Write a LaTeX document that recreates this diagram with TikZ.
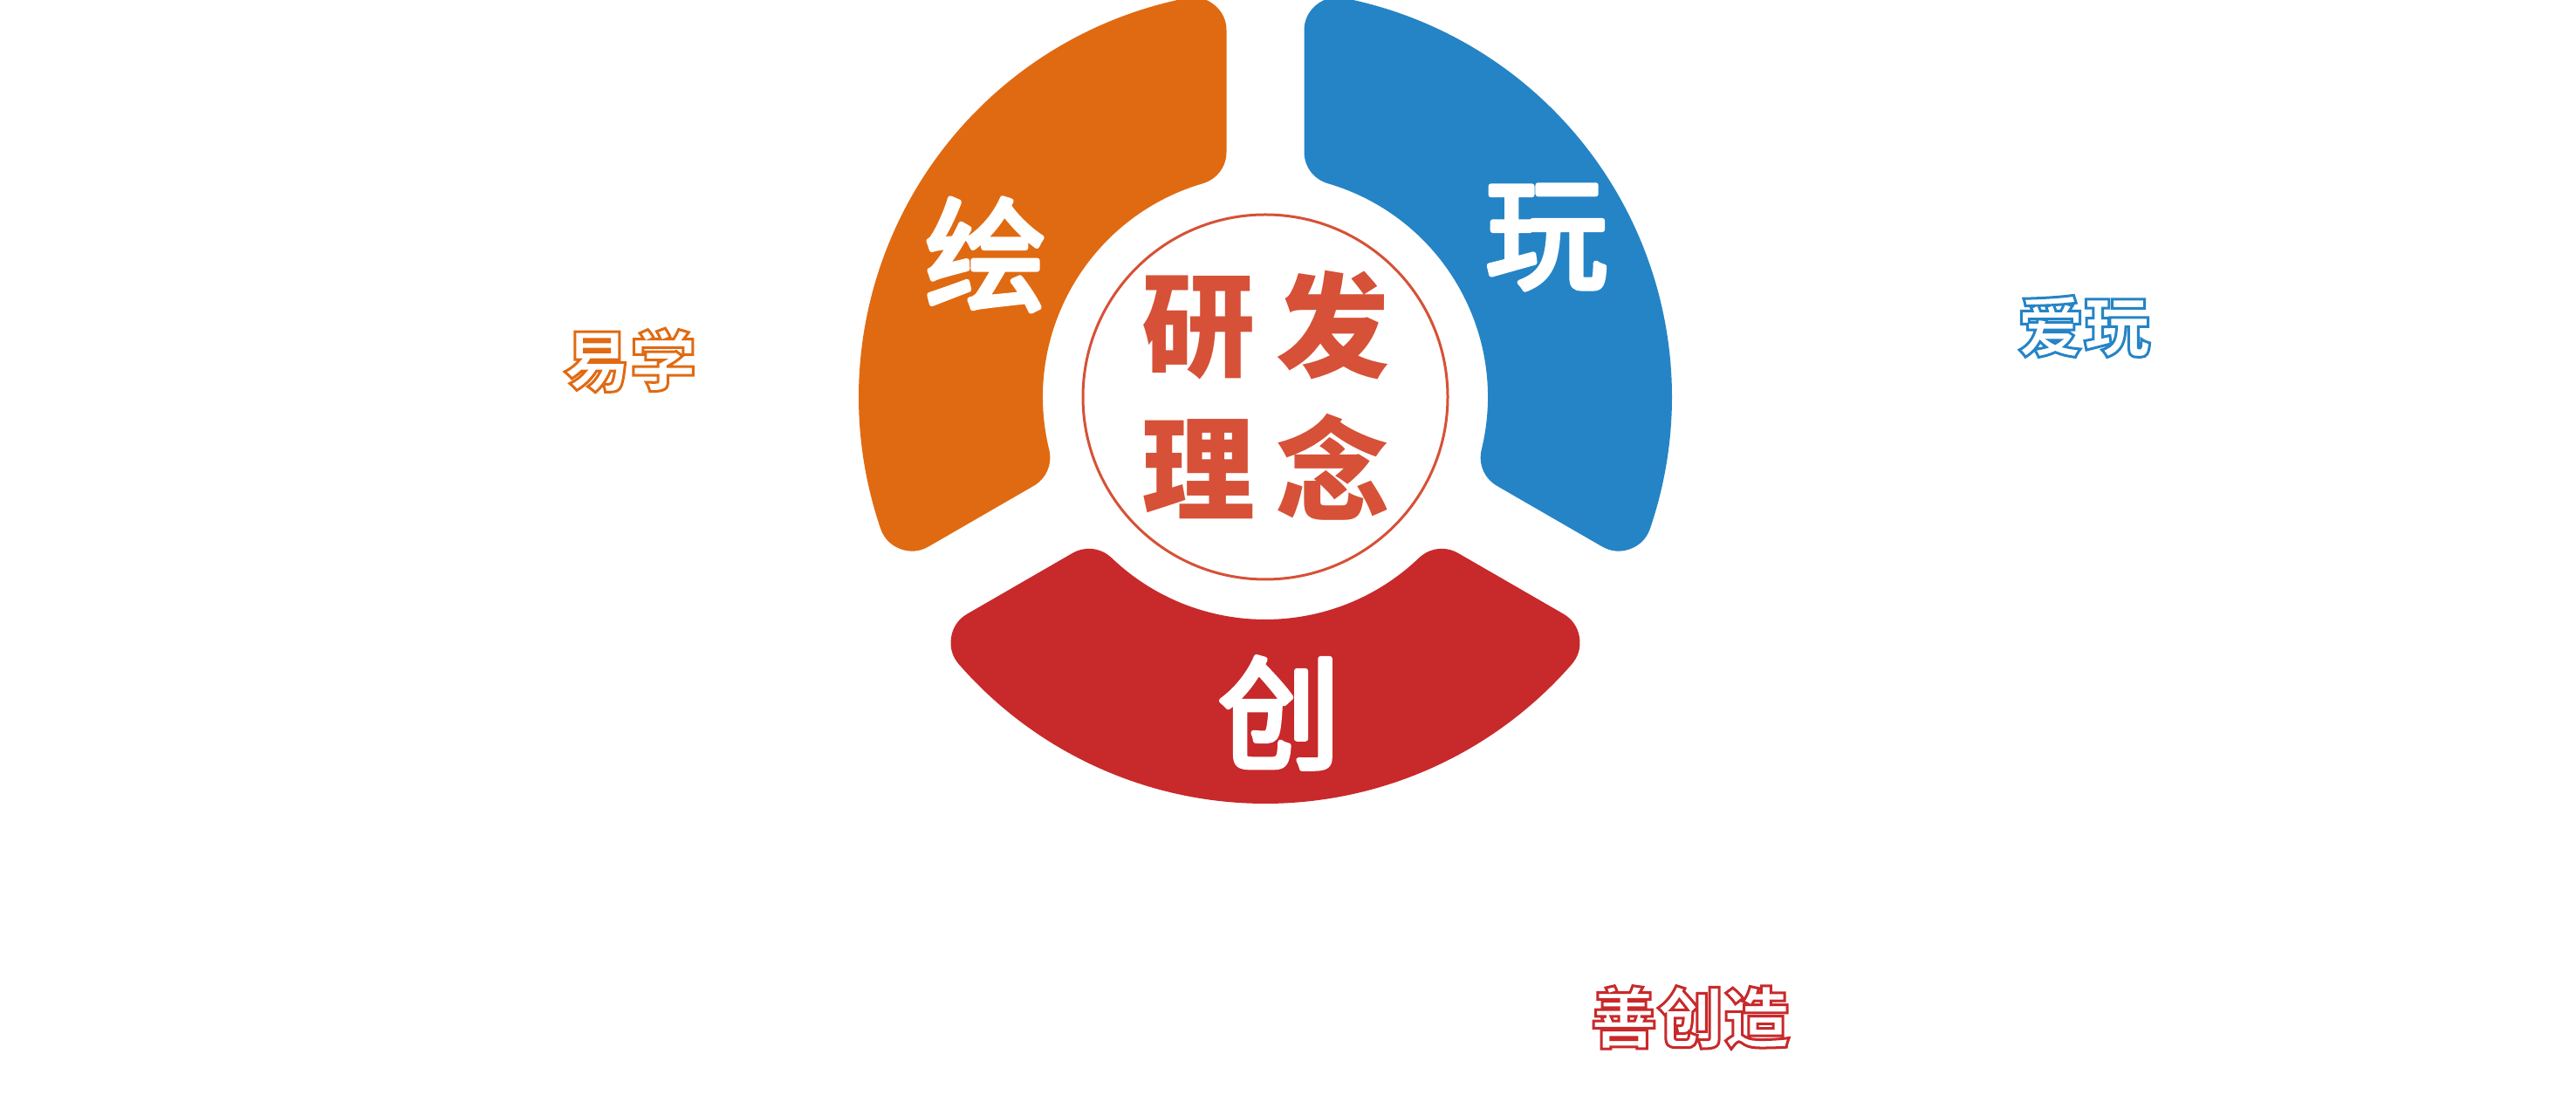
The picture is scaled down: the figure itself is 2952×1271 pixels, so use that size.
\documentclass[tikz,border=0pt]{standalone}
\usepackage{fontspec}
\usetikzlibrary{calc}
\newfontfamily\cjk{Noto Sans CJK SC}
\definecolor{orng}{HTML}{E06A12}
\definecolor{blu}{HTML}{2584C6}
\definecolor{rd}{HTML}{C8292B}
\definecolor{core}{HTML}{D65137}
\newcommand\outlinetext[2]{\special{pdf:literal direct 1 Tr #1 w}#2\special{pdf:literal direct 0 Tr}}
\newcommand\heavytext[2]{\special{pdf:literal direct 2 Tr #1 w 1 j 1 J}#2\special{pdf:literal direct 0 Tr}}
\newcommand\ringseg[3]{%
  \pgfmathsetmacro\sa{#1+\ao}\pgfmathsetmacro\ea{#2-\ao}%
  \pgfmathsetmacro\sb{#2-\ai}\pgfmathsetmacro\eb{#1+\ai}%
  \filldraw[seg=#3] ($(c)+(\sa:428)$) arc[start angle=\sa, end angle=\ea, radius=428]
     -- ($(c)+(\sb:293)$) arc[start angle=\sb, end angle=\eb, radius=293] -- cycle;}
\begin{document}
\begin{tikzpicture}[x=1pt,y=1pt,
  seg/.style={fill=#1, draw=#1, line width=76pt, line join=round},
  ringchar/.style={text=white, font=\cjk\fontsize{140}{140}\selectfont, inner sep=0pt},
  corechar/.style={text=core, font=\cjk\bfseries\fontsize{130}{130}\selectfont, inner sep=0pt},
  tag/.style={text=#1, font=\cjk\bfseries\fontsize{76}{76}\selectfont, inner sep=0pt}]
\useasboundingbox (0,0) rectangle (2952,1271);
\fill[white] (0,0) rectangle (2952,1271);
\coordinate (c) at (1450,816);
\pgfmathsetmacro\ao{asin(82.5/428)}
\pgfmathsetmacro\ai{asin(82.5/293)}
\ringseg{90}{210}{orng}
\ringseg{-30}{90}{blu}
\ringseg{210}{330}{rd}
\draw[core, line width=3pt] (c) circle[radius=209];
\node[ringchar] (hui) at (1130,979) {\heavytext{6}{绘}};
\node[ringchar] (wan) at (1772,999) {\heavytext{6}{玩}};
\node[ringchar] (chuang) at (1466,454) {\heavytext{6}{创}};
\node[corechar] (yan) at (1373,896) {研};
\node[corechar] (fa) at (1527,898) {发};
\node[corechar] (li) at (1373,733) {理};
\node[corechar] (nian) at (1527,736) {念};
\node[tag=orng] (yixue) at (722,858) {\outlinetext{3}{易学}};
\node[tag=blu] (aiwan) at (2388,897) {\outlinetext{3}{爱玩}};
\node[tag=rd] (shan) at (1937,105) {\outlinetext{3}{善创造}};
\end{tikzpicture}
\end{document}
